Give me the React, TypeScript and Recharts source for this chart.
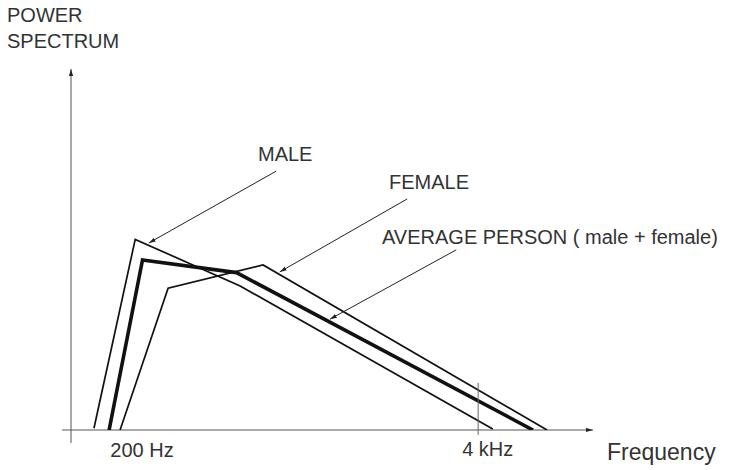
import { LineChart, Line, XAxis, YAxis, ReferenceLine } from "recharts";

// arbitrary units: x = position along frequency axis (0-100), y = power (0-100)
const maleX = [4.4, 12.3, 32.4, 80.8];
const maleY = [0.5, 52.8, 39.9, 0.3];
const femaleX = [9.4, 18.6, 36.8, 91.2];
const femaleY = [0, 39.3, 45.7, 0];
const averageX = [7.3, 13.7, 31.7, 88.5];
const averageY = [0, 47.1, 43.6, 0];

const tickValues = [13.6, 78.0];
const tickLabels = ["200 Hz", "4 kHz"];

// annotation arrows: [startX, startY, tipX, tipY]
const maleArrow = [39.3, 71.7, 14.9, 51.8];
const femaleArrow = [64.4, 64.0, 40.0, 43.8];
const averageArrow = [73.8, 49.9, 49.6, 30.7];

const toRows = (xs: number[], ys: number[]) => xs.map((x, i) => ({ x, y: ys[i] }));

const FONT = "'Liberation Sans', Arial, sans-serif";
const TEXT = "#333";

function FreqTick(props: any) {
  const { x, y, payload } = props;
  const idx = tickValues.indexOf(payload.value);
  if (idx === 1) {
    return (
      <g>
        <line x1={x} x2={x} y1={y - 47} y2={y + 5} stroke="#666" strokeWidth={1} />
        <text x={x - 16} y={y + 26} fontSize={20} fontFamily={FONT} fill={TEXT}>
          {tickLabels[idx]}
        </text>
      </g>
    );
  }
  return (
    <text x={x} y={y + 27} textAnchor="middle" fontSize={20} fontFamily={FONT} fill={TEXT}>
      {tickLabels[idx]}
    </text>
  );
}

function Arrow({ a }: { a: number[] }) {
  return (
    <ReferenceLine
      segment={[
        { x: a[0], y: a[1] },
        { x: a[2], y: a[3] },
      ]}
      stroke="#222"
      strokeWidth={1}
      ifOverflow="visible"
      markerEnd="url(#arrowHead)"
    />
  );
}

export default function App() {
  return (
    <div style={{ width: 755, height: 470, background: "#fff" }}>
      <style>{`body{margin:0}`}</style>
      <LineChart
        width={755}
        height={470}
        margin={{ top: 69, right: 162, bottom: 0, left: 71 }}
      >
        <defs>
          <marker
            id="arrowHead"
            viewBox="0 0 10 6"
            refX={10}
            refY={3}
            markerWidth={7}
            markerHeight={5}
            markerUnits="userSpaceOnUse"
            orient="auto"
          >
            <path d="M0,0 L10,3 L0,6 z" fill="#222" />
          </marker>
        </defs>

        <XAxis
          type="number"
          dataKey="x"
          domain={[0, 100]}
          ticks={tickValues}
          tick={<FreqTick />}
          axisLine={false}
          tickLine={false}
          tickSize={0}
          tickMargin={0}
          height={40}
          interval={0}
          allowDataOverflow
        />
        <YAxis type="number" dataKey="y" domain={[0, 100]} hide allowDataOverflow />

        {/* axes with arrows */}
        <ReferenceLine
          segment={[
            { x: 0, y: -3.6 },
            { x: 0, y: 100 },
          ]}
          stroke="#555"
          strokeWidth={1}
          ifOverflow="visible"
          markerEnd="url(#arrowHead)"
        />
        <ReferenceLine
          segment={[
            { x: -1.7, y: 0 },
            { x: 100, y: 0 },
          ]}
          stroke="#555"
          strokeWidth={1}
          ifOverflow="visible"
          markerEnd="url(#arrowHead)"
        />

        <Line
          data={toRows(maleX, maleY)}
          dataKey="y"
          type="linear"
          stroke="#111"
          strokeWidth={1.7}
          dot={false}
          isAnimationActive={false}
        />
        <Line
          data={toRows(femaleX, femaleY)}
          dataKey="y"
          type="linear"
          stroke="#111"
          strokeWidth={1.7}
          dot={false}
          isAnimationActive={false}
        />
        <Line
          data={toRows(averageX, averageY)}
          dataKey="y"
          type="linear"
          stroke="#111"
          strokeWidth={3.6}
          dot={false}
          isAnimationActive={false}
        />

        {Arrow({ a: maleArrow })}
        {Arrow({ a: femaleArrow })}
        {Arrow({ a: averageArrow })}

        <text fontFamily={FONT} fontSize={20} fill={TEXT}>
          <tspan x={7} y={22}>POWER</tspan>
          <tspan x={7} y={48}>SPECTRUM</tspan>
        </text>
        <text x={258} y={161} fontFamily={FONT} fontSize={20} fill={TEXT}>MALE</text>
        <text x={389} y={189} fontFamily={FONT} fontSize={20} fill={TEXT}>FEMALE</text>
        <text x={382} y={244} fontFamily={FONT} fontSize={20} fill={TEXT}>
          AVERAGE PERSON ( male + female)
        </text>
        <text x={607} y={460} fontFamily={FONT} fontSize={23} fill={TEXT}>Frequency</text>
      </LineChart>
    </div>
  );
}
